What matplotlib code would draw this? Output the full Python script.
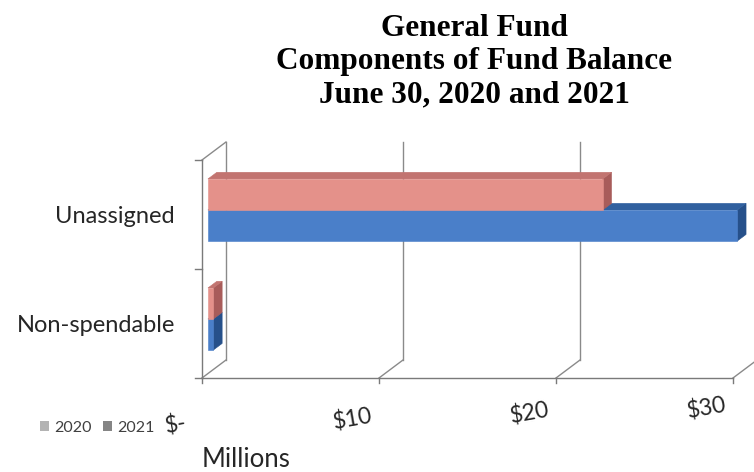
import matplotlib
matplotlib.use("Agg")
import matplotlib.pyplot as plt
import numpy as np
from matplotlib.patches import Polygon, Patch
from matplotlib.lines import Line2D
from matplotlib.transforms import IdentityTransform

# ---- data (millions of dollars) ----
categories = ["Non-spendable", "Unassigned"]
years = ["2020", "2021"]
values_2020 = [0.3, 22.3]
values_2021 = [0.3, 29.9]
x_ticks = [0, 10, 20, 30]
x_tick_labels = ["$-", "$10", "$20", "$30"]
title_lines = ["General Fund", "Components of Fund Balance", "June 30, 2020 and 2021"]
axis_title = "Millions"

# ---- styling ----
DPI = 100
LABEL_FONT = "Lato"
TEXT_COLOR = "#262626"
GRID_COLOR = "#8a8a8a"
FACE = {
    "2020": dict(front="#e4918a", top="#c27470", side="#a85c5a"),
    "2021": dict(front="#4a7fc9", top="#30609f", side="#26508a"),
}
LEGEND_COLORS = {"2020": "#b3b3b3", "2021": "#858585"}
WALL_DEPTH = np.array([24.0, 18.0])   # screen offset of the back wall, px
BAR_FRONT, BAR_BACK = 0.25, 0.62      # bar slab position within the depth
BAR_H = 0.285                          # thickness of each bar (category units)

fig = plt.figure(figsize=(7.54, 4.72), dpi=DPI)
ax = fig.add_axes([0, 0, 1, 1])
ax.set_axis_off()
ax.set_xlim(-11.41, 31.19)
ax.set_ylim(-0.862, 3.468)
scale = fig.dpi / 100.0


def project(x, y, depth):
    """Data point pushed back into the chart by a fraction of the wall depth."""
    return ax.transData.transform((x, y)) + depth * WALL_DEPTH * scale


def seg(p, q, color=GRID_COLOR, lw=1.0):
    ax.add_line(Line2D([p[0], q[0]], [p[1], q[1]], transform=IdentityTransform(),
                       color=color, lw=lw, clip_on=False, zorder=1))


def poly(points, color):
    ax.add_patch(Polygon(points, closed=True, transform=IdentityTransform(),
                         facecolor=color, edgecolor=color, lw=0.4, clip_on=False,
                         zorder=2))


n_cat = len(categories)
x_max = x_ticks[-1]

# walls and floor
for xv in x_ticks:
    seg(project(xv, 0, 1), project(xv, n_cat, 1))      # back wall gridlines
    seg(project(xv, 0, 0), project(xv, 0, 1))          # floor edges
    seg(project(xv, 0, 0), project(xv, 0, 0) - np.array([0, 5 * scale]), "#7a7a7a")
seg(project(0, 0, 0), project(0, n_cat, 0), "#7a7a7a")    # left wall front edge
seg(project(0, n_cat, 0), project(0, n_cat, 1))           # left wall top edge
seg(project(0, 0, 0), project(x_max, 0, 0), "#7a7a7a")    # category axis line
for k in range(n_cat + 1):
    p = project(0, k, 0)
    seg(p, p - np.array([7 * scale, 0]), "#7a7a7a")


def bar3d(value, y0, y1, faces):
    f0, f1 = BAR_FRONT, BAR_BACK
    side = [project(value, y0, f0), project(value, y0, f1),
            project(value, y1, f1), project(value, y1, f0)]
    top = [project(0, y1, f0), project(value, y1, f0),
           project(value, y1, f1), project(0, y1, f1)]
    front = [project(0, y0, f0), project(value, y0, f0),
             project(value, y1, f0), project(0, y1, f0)]
    poly(side, faces["side"])
    poly(top, faces["top"])
    poly(front, faces["front"])


for i, cat in enumerate(categories):
    c = i + 0.5
    bar3d(values_2021[i], c - BAR_H, c, FACE["2021"])
    bar3d(values_2020[i], c, c + BAR_H, FACE["2020"])
    # category label
    ax.annotate(cat, xy=(0, c), xytext=(-27, -2), textcoords="offset pixels",
                ha="right", va="center", fontsize=17, family=LABEL_FONT,
                color=TEXT_COLOR)

# value-axis tick labels, slightly tilted like the axis plane
for xv, lab in zip(x_ticks, x_tick_labels):
    drop = 47 - 0.57 * xv
    ax.annotate(lab, xy=(xv, 0), xytext=(-26, -drop), textcoords="offset pixels",
                ha="center", va="center", rotation=10, fontsize=16.5,
                family=LABEL_FONT, color=TEXT_COLOR)

ax.annotate(axis_title, xy=(0, 0), xytext=(44, -81), textcoords="offset pixels",
            ha="center", va="center", fontsize=18.5, family=LABEL_FONT,
            color=TEXT_COLOR)

# title
fig.text(474 / 754, 1 - 62 / 472, "\n".join(title_lines), ha="center", va="center",
         family="Liberation Serif", fontweight="bold", fontsize=22.5,
         linespacing=1.2, color="#000000")

# legend
handles = [Patch(facecolor=LEGEND_COLORS[y], edgecolor="none", label=y) for y in years]
fig.legend(handles=handles, loc="center left", bbox_to_anchor=(0.042, 1 - 428 / 472),
           ncol=2, frameon=False, handlelength=0.6, handleheight=0.6,
           handletextpad=0.3, columnspacing=0.7, borderpad=0, labelcolor="#404040",
           prop=dict(family=LABEL_FONT, size=11.5))

fig.savefig("out.png", dpi=DPI)
